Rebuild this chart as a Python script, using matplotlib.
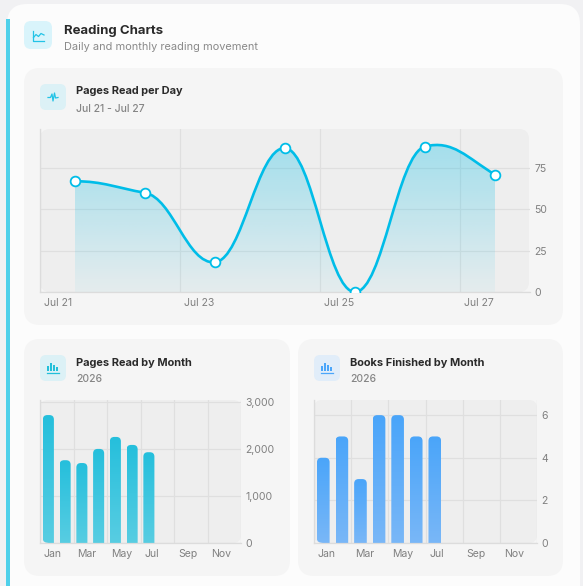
import matplotlib
matplotlib.use('Agg')
import matplotlib.pyplot as plt
import numpy as np
from matplotlib.colors import to_rgb
from matplotlib.patches import FancyBboxPatch, PathPatch, Rectangle
from matplotlib.path import Path
from matplotlib.transforms import ScaledTranslation

W, H = 583, 586

days = ['Jul 21', 'Jul 22', 'Jul 23', 'Jul 24', 'Jul 25', 'Jul 26', 'Jul 27']
pages_per_day = [67, 60, 18, 87, 0, 88, 71]
day_ticks = [-0.5, 1.5, 3.5, 5.5]
day_tick_labels = ['Jul 21', 'Jul 23', 'Jul 25', 'Jul 27']
day_y_ticks = [0, 25, 50, 75]

months = ['Jan', 'Feb', 'Mar', 'Apr', 'May', 'Jun', 'Jul', 'Aug', 'Sep', 'Oct', 'Nov', 'Dec']
pages_by_month = [2720, 1760, 1700, 2000, 2255, 2085, 1930]
books_by_month = [4, 5, 3, 6, 6, 5, 5]
pages_y_ticks = [0, 1000, 2000, 3000]
books_y_ticks = [0, 2, 4, 6]

plt.rcParams['font.family'] = ['Inter', 'DejaVu Sans']

CYAN = '#00bde8'
GRID = '#dfdfdf'
TICK = '#808080'


def px(size):
    return size * 0.72


def rounded(ax, x0, y0, x1, y1, r, color, zorder=1):
    ax.add_patch(FancyBboxPatch((x0 + r, y0 + r), x1 - x0 - 2 * r, y1 - y0 - 2 * r,
                                boxstyle='round,pad=%f,rounding_size=%f' % (r, r),
                                fc=color, ec='none', zorder=zorder))


def chart_axes(l, t, r, b):
    ax = fig.add_axes([l / W, 1 - b / H, (r - l) / W, (b - t) / H], zorder=2)
    ax.patch.set_alpha(0)
    ax.yaxis.tick_right()
    for side in ['top', 'right']:
        ax.spines[side].set_visible(False)
    for side in ['left', 'bottom']:
        ax.spines[side].set_color('#dcdcdc')
        ax.spines[side].set_linewidth(0.9)
    ax.grid(True, color=GRID, lw=0.9, zorder=0)
    ax.set_axisbelow(True)
    ax.tick_params(length=0, labelsize=px(10.5), labelcolor=TICK, pad=3)
    ax.tick_params(axis='x', pad=4.5)
    return ax


def left_labels(ax, ticks, labels):
    ax.set_xticks(ticks)
    ax.set_xticklabels(labels, ha='left')
    shift = ScaledTranslation(4 / 100, 0, fig.dpi_scale_trans)
    for lab in ax.get_xticklabels():
        lab.set_transform(lab.get_transform() + shift)


def gradient(top, bottom):
    # top and bottom are rgba tuples
    g = np.zeros((128, 1, 4))
    for i in range(4):
        g[:, 0, i] = np.linspace(top[i], bottom[i], 128)
    return g


def monthly_bars(ax, values, width, top_color, bottom_color):
    ymax = ax.get_ylim()[1]
    box = ax.get_position()
    xscale = box.width * W / 12
    yscale = box.height * H / ymax
    rx, ry = 4.5 / xscale, 4.5 / yscale
    g = gradient(to_rgb(top_color) + (1,), to_rgb(bottom_color) + (1,))
    for i, v in enumerate(values):
        x0, x1 = i - width / 2, i + width / 2
        verts = [(x0, 0), (x0, v - ry), (x0, v), (x0 + rx, v), (x1 - rx, v), (x1, v), (x1, v - ry),
                 (x1, 0), (x0, 0)]
        codes = [Path.MOVETO, Path.LINETO, Path.CURVE3, Path.CURVE3, Path.LINETO, Path.CURVE3, Path.CURVE3,
                 Path.LINETO, Path.CLOSEPOLY]
        if i == 0:  # plot background corner cuts into the first bar
            bx, by = 7 / xscale, 4 / yscale
            verts = [(x0, by)] + verts[1:7] + [(x1, 0), (x0 + bx, 0), (x0, 0), (x0, by), (x0, by)]
            codes = codes[:7] + [Path.LINETO, Path.LINETO, Path.CURVE3, Path.CURVE3, Path.CLOSEPOLY]
        patch = PathPatch(Path(verts, codes), transform=ax.transData, fc='none', ec='none')
        ax.add_patch(patch)
        im = ax.imshow(g, extent=[x0, x1, 0, v], aspect='auto', zorder=2, interpolation='bilinear')
        im.set_clip_path(patch)
    ax.set_xlim(-0.5, 11.5)
    ax.set_ylim(0, ymax)


fig = plt.figure(figsize=(W / 100, H / 100), dpi=100, facecolor='#f1f1f3')
bg = fig.add_axes([0, 0, 1, 1], zorder=0)
bg.set_xlim(0, W)
bg.set_ylim(H, 0)
bg.axis('off')

# page cards
rounded(bg, 7, 4, 580, 620, 20, '#fcfcfc')
bg.add_patch(Rectangle((6, 19), 4, H - 19, fc='#4fd0ea', ec='none', zorder=2))
rounded(bg, 24, 68, 563, 325, 16, '#f5f5f5', 2)
rounded(bg, 24, 339, 290, 576, 16, '#f5f5f5', 2)
rounded(bg, 298, 339, 563, 576, 16, '#f5f5f5', 2)
rounded(bg, 40, 129, 529, 292, 10, '#eeeeee', 3)
rounded(bg, 40, 400, 241, 543, 8, '#eeeeee', 3)
rounded(bg, 314, 400, 537, 543, 8, '#eeeeee', 3)

# icon boxes
rounded(bg, 24, 21, 52, 49, 7, '#d9f4fb', 3)
rounded(bg, 40, 84, 66, 110, 6, '#dcf1f6', 3)
rounded(bg, 40, 355, 66, 381, 6, '#dcf1f6', 3)
rounded(bg, 314, 355, 340, 381, 6, '#e1edf9', 3)

# icon glyphs
bg.plot([32.5, 32.5, 44], [31, 41, 41], color='#22c3e6', lw=0.9, zorder=4)
bg.plot([33.5, 36, 38.5, 41, 44], [37.5, 34.5, 36.5, 33.5, 35], color='#22c3e6', lw=0.9, zorder=4)
bg.plot([48, 50.5, 52, 53, 54.5, 55.5, 58], [97.5, 97.5, 94, 101, 93, 98, 97.5],
        color='#22c3e6', lw=0.9, zorder=4)
for x0, color in [(47, '#22bfd9'), (321, '#4ba6fa')]:
    base = 372.5
    for dx, h in [(0, 5), (3, 8), (6, 6.5), (9, 4.5)]:
        bg.add_patch(Rectangle((x0 + dx, base - 1.5 - h), 2.2, h, fc=color, ec='none', zorder=4))
    bg.plot([x0, x0 + 11.5], [base, base], color=color, lw=0.9, zorder=4)

# header texts
bg.text(64, 30.5, 'Reading Charts', fontsize=px(13.2), weight='bold', color='#2a2a2a', va='center', zorder=5)
bg.text(64, 47.5, 'Daily and monthly reading movement', fontsize=px(11), color='#8a8a8a', va='center', zorder=5)
bg.text(76, 91.5, 'Pages Read per Day', fontsize=px(11), weight='bold', color='#2a2a2a', va='center', zorder=5)
bg.text(76, 108.5, 'Jul 21 - Jul 27', fontsize=px(10.4), weight='medium', color='#858585', va='center', zorder=5)
bg.text(76, 362.5, 'Pages Read by Month', fontsize=px(11), weight='bold', color='#2a2a2a', va='center', zorder=5)
bg.text(76, 379.5, '2026', fontsize=px(10.4), weight='medium', color='#858585', va='center', zorder=5)
bg.text(350, 362.5, 'Books Finished by Month', fontsize=px(11), weight='bold', color='#2a2a2a', va='center', zorder=5)
bg.text(350, 379.5, '2026', fontsize=px(10.4), weight='medium', color='#858585', va='center', zorder=5)

# line chart
ax1 = chart_axes(40, 129, 530, 292)
ax1.set_xlim(-0.5, 6.5)
ax1.set_ylim(0, 98.6)
ax1.set_yticks(day_y_ticks)
left_labels(ax1, day_ticks, day_tick_labels)

xs = np.arange(len(days))
ys = np.array(pages_per_day, dtype=float)
verts = [(xs[0], ys[0])]
codes = [Path.MOVETO]
for i in range(len(xs) - 1):
    # smooth segment between neighbouring days, tangent follows the neighbours
    out_dy = 0.06 * (ys[i + 1] - ys[i - 1]) if i > 0 else 0
    in_dy = 0.06 * (ys[i + 2] - ys[i]) if i + 2 < len(ys) else 0.6 * (ys[i + 1] - ys[i])
    verts += [(xs[i] + 0.4, ys[i] + out_dy),
              (xs[i + 1] - 0.4, ys[i + 1] - in_dy),
              (xs[i + 1], ys[i + 1])]
    codes += [Path.CURVE4] * 3
area = PathPatch(Path(verts + [(xs[-1], 0), (xs[0], 0), (xs[0], ys[0])],
                      codes + [Path.LINETO, Path.LINETO, Path.CLOSEPOLY]),
                 transform=ax1.transData, fc='none', ec='none')
ax1.add_patch(area)
fill = gradient(to_rgb(CYAN) + (0.31,), to_rgb(CYAN) + (0.04,))
im = ax1.imshow(fill, extent=[xs[0], xs[-1], 0, max(pages_per_day)], aspect='auto', zorder=2)
im.set_clip_path(area)
ax1.add_patch(PathPatch(Path(verts, codes), fc='none', ec=CYAN, lw=1.9, zorder=3, capstyle='round'))
ax1.plot(xs, ys, ls='none', marker='o', ms=7, mfc='white', mec=CYAN, mew=1.3, zorder=4)
ax1.set_xlim(-0.5, 6.5)
ax1.set_ylim(0, 98.6)

# monthly bars
ax2 = chart_axes(40, 400, 241, 543)
ax2.set_xlim(-0.5, 11.5)
ax2.set_ylim(0, 3040)
ax2.set_yticks(pages_y_ticks)
ax2.set_yticklabels(['0', '1,000', '2,000', '3,000'])
left_labels(ax2, np.arange(-0.5, 11, 2), months[::2])
ax2.axvline(11.5, color=GRID, lw=0.9, zorder=0)
monthly_bars(ax2, pages_by_month, 0.66, '#25bfdc', '#58cde2')

ax3 = chart_axes(314, 400, 537, 543)
ax3.set_xlim(-0.5, 11.5)
ax3.set_ylim(0, 6.71)
ax3.set_yticks(books_y_ticks)
left_labels(ax3, np.arange(-0.5, 11, 2), months[::2])
ax3.axvline(11.5, color=GRID, lw=0.9, zorder=0)
monthly_bars(ax3, books_by_month, 0.68, '#4aa5fa', '#79b7f7')

fig.savefig('out.png', dpi=100, facecolor=fig.get_facecolor())
